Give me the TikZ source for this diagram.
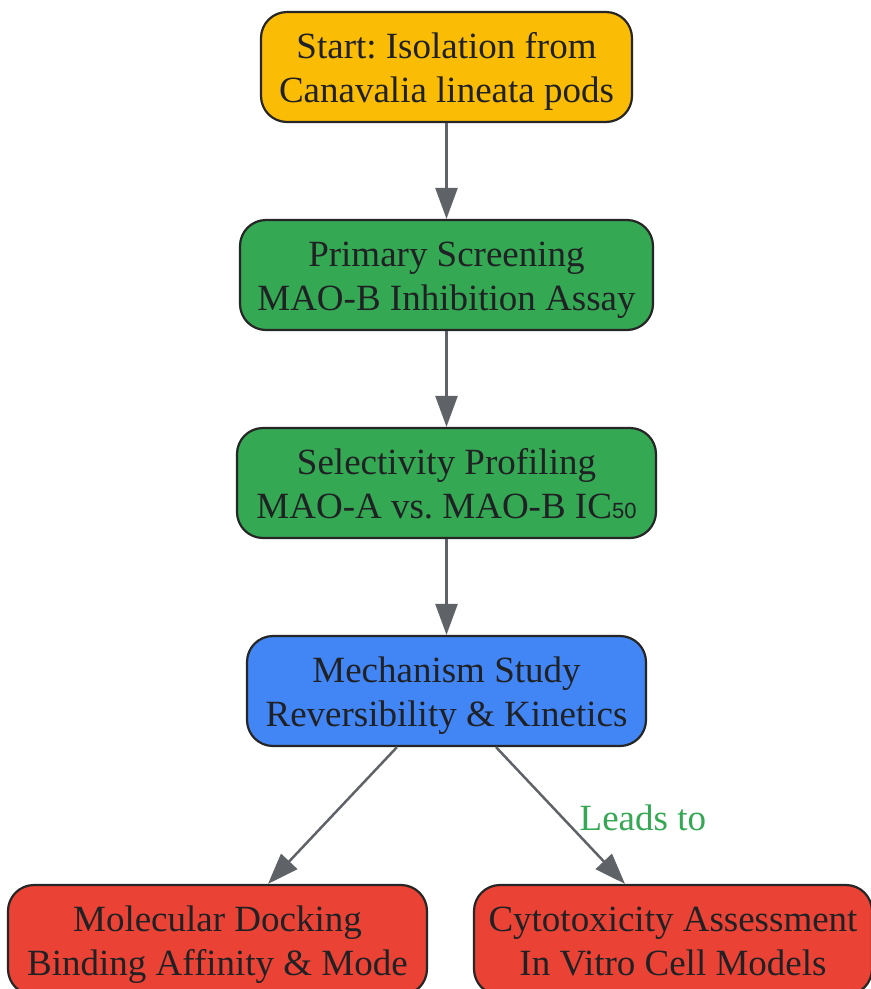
\documentclass[tikz,border=0pt]{standalone}
\usepackage{fontspec}
\setmainfont{Liberation Serif}
\newfontfamily\subfont{Liberation Sans}
\usetikzlibrary{arrows.meta}
\definecolor{cyellow}{HTML}{FBBC05}
\definecolor{cgreen}{HTML}{34A853}
\definecolor{cblue}{HTML}{4285F4}
\definecolor{cred}{HTML}{EA4335}
\definecolor{cgray}{HTML}{5F6368}
\definecolor{ctext}{HTML}{202124}
\newcommand{\upstrut}{\rule{0pt}{35pt}}
\newcommand{\dnstrut}{\rule[-8.5pt]{0pt}{8.5pt}}
\tikzset{
  box/.style={draw=black!85, line width=2.2pt, rounded corners=26pt, minimum height=110pt,
    align=center, text=ctext, inner sep=0pt,
    font=\fontsize{37}{44}\selectfont\frenchspacing},
  conn/.style={draw=cgray, line width=2.5pt, -{Triangle[length=31pt,width=22pt]}},
}
\begin{document}
\begin{tikzpicture}[x=1pt,y=-1pt]
\useasboundingbox (0,0) rectangle (871,989);
\node[box, fill=cyellow, minimum width=371pt] (start) at (446.5,67) {\upstrut Start: Isolation from\\Canavalia lineata pods\dnstrut};
\node[box, fill=cgreen, minimum width=413pt] (prim) at (446.5,275) {\upstrut Primary Screening\\MAO-B Inhibition Assay\dnstrut};
\node[box, fill=cgreen, minimum width=419pt] (sel) at (446.5,483) {\upstrut Selectivity Profiling\\MAO-A vs. MAO-B IC{\subfont\fontsize{22}{22}\selectfont 50}\dnstrut};
\node[box, fill=cblue, minimum width=399pt] (mech) at (446.5,691) {\upstrut Mechanism Study\\Reversibility \& Kinetics\dnstrut};
\node[box, fill=cred, minimum width=419pt] (dock) at (217.5,940) {\upstrut Molecular Docking\\Binding Affinity \& Mode\dnstrut};
\node[box, fill=cred, minimum width=398pt] (cyto) at (673,940) {\upstrut Cytotoxicity Assessment\\In Vitro Cell Models\dnstrut};
\draw[conn] (start) -- (prim);
\draw[conn] (prim) -- (sel);
\draw[conn] (sel) -- (mech);
\draw[conn] (mech.south -| 397,0) -- (dock.north -| 268,0);
\draw[conn] (mech.south -| 496,0) -- node[pos=0.52, right=12pt, text=cgreen, font=\fontsize{37}{44}\selectfont] (lbl) {Leads to} (cyto.north -| 625,0);
\end{tikzpicture}
\end{document}
